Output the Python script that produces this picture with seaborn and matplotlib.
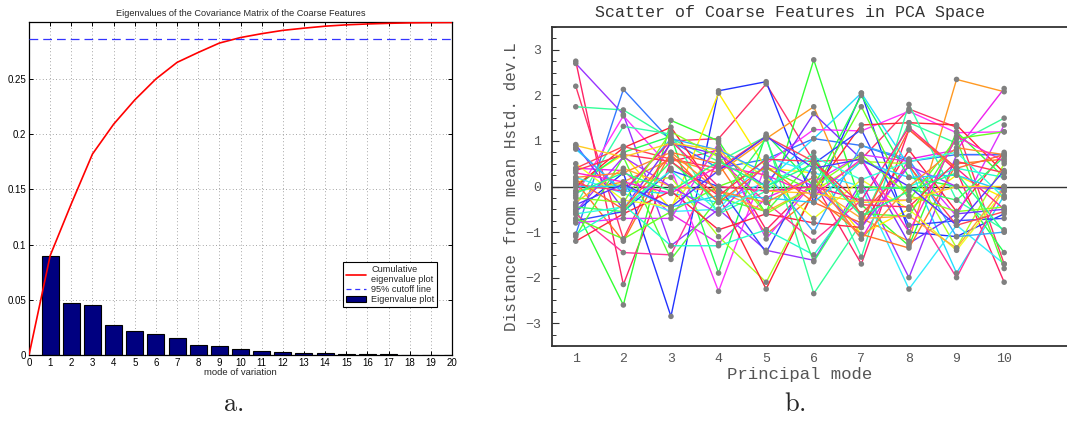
import numpy as np
import pandas as pd
import matplotlib
matplotlib.use("Agg")
import matplotlib.pyplot as plt
import seaborn as sns
from matplotlib.lines import Line2D
from matplotlib.patches import Patch
from matplotlib.ticker import MultipleLocator

# ---------------- data: panel a ----------------
modes = list(range(1, 21))
eigenvalues = [0.0900, 0.0470, 0.0450, 0.0270, 0.0220, 0.0190, 0.0150, 0.0090,
               0.0085, 0.0050, 0.0035, 0.0030, 0.0020, 0.0018, 0.0012, 0.0008,
               0.0006, 0.0004, 0.0002, 0.0001]
cutoff_fraction = 0.95
xticks_a = list(range(0, 21))
yticks_a = [0, 0.05, 0.1, 0.15, 0.2, 0.25]
yticklabels_a = ["0", "0.05", "0.1", "0.15", "0.2", "0.25"]

# ---------------- data: panel b ----------------
principal_modes = list(range(1, 11))
s01 = [2.70, 1.58, -1.30, -0.50, -1.40, -1.62, 0.10, -2.00, 0.70, 0.70]
s02 = [2.20, -1.15, 1.00, 1.05, 2.25, 0.55, 0.60, 1.70, 1.30, -1.70]
s03 = [2.75, -2.15, 0.55, 0.80, -0.95, 0.10, -1.70, 1.25, 0.35, -2.10]
s04 = [1.75, 1.68, 1.05, 0.55, 1.10, -2.35, -0.80, 1.40, 0.95, 1.50]
s05 = [-1.05, 2.13, 1.00, 0.40, 0.60, 1.05, 0.90, 0.55, 0.70, 0.70]
s06 = [-0.55, 0.30, -2.85, 2.10, 2.30, -0.35, 2.05, -1.00, -1.10, -0.60]
s07 = [-0.50, -2.60, 1.45, 1.00, -0.60, 2.78, -0.40, -1.30, 1.20, 0.20]
s08 = [0.05, 0.70, -0.50, 2.05, 0.40, 0.30, -1.05, -0.50, 0.25, -0.25]
s09 = [0.82, -0.10, -0.15, -0.35, 0.10, 1.05, 2.05, 0.45, -1.90, -0.20]
s10 = [-0.10, 0.10, 0.60, 0.30, 1.05, 1.75, -0.70, -1.20, 2.35, 2.08]
s11 = [-0.20, 1.55, 0.40, -2.30, 0.50, 1.25, 1.22, 1.65, 1.18, 1.20]
s12 = [0.40, 0.35, -0.60, -1.25, -0.25, 0.20, -1.15, 0.60, 0.80, 2.15]
s13 = [0.00, 0.75, 1.10, -1.90, 1.15, 0.00, 2.00, 0.20, 0.00, -1.45]
s14 = [-0.10, 0.05, 0.20, -1.10, -2.10, -0.10, 0.55, 0.50, -1.35, 0.50]
s15 = [0.00, 0.85, 1.30, -0.20, -2.25, -0.10, 1.35, 1.40, 1.35, 0.30]
s16 = [-0.40, 1.32, 1.15, -0.60, -0.10, 0.75, -1.55, 1.80, -0.30, -0.95]
s17 = [0.92, -0.50, 0.95, 0.70, 0.00, 1.60, 0.60, -1.25, -0.60, -0.50]
s18 = [0.20, -0.15, -0.55, -0.50, 0.65, 0.30, 0.00, -2.25, -0.85, -1.70]
s19 = [0.10, -1.20, 0.75, 0.50, -1.05, -0.20, -1.05, -1.35, 0.50, 0.60]
s20 = [-0.60, -1.45, -1.50, 0.60, -0.35, -1.20, -0.30, -0.30, -2.00, 0.00]
s21 = [-0.75, -0.55, 0.35, 0.00, -1.45, 0.50, 1.25, -0.85, -0.75, -0.70]
s22 = [-1.10, 0.65, -1.60, -0.25, -0.55, 0.60, -0.60, -0.65, 1.05, -1.80]
s23 = [-1.20, -0.60, -0.10, -0.95, -0.60, -0.80, -0.90, 0.80, -0.55, 0.75]
s24 = [0.50, -0.30, -0.45, 0.85, 0.20, -0.70, 0.15, -0.50, -1.40, -0.10]
s25 = [-0.80, -0.70, -0.70, 0.95, -1.15, 0.10, 0.70, 0.55, -0.65, 1.35]
s26 = [-1.05, -0.40, -1.30, -1.30, -0.95, -1.50, -0.10, 0.00, 0.40, 0.20]
s27 = [-0.35, 0.40, 0.00, -0.10, -0.55, 0.00, -0.70, -0.65, -1.35, 0.00]
s28 = [0.40, 0.88, 0.60, 0.40, 1.10, 0.55, -0.60, 0.45, -0.85, -0.55]
s29 = [0.85, -0.15, 1.05, 0.80, 0.30, -1.00, 0.90, 0.60, -1.10, -1.00]
s30 = [-0.70, -1.15, -0.55, 0.00, 0.40, -0.10, 1.75, -0.30, 1.05, 1.20]
s31 = [0.05, -0.10, 1.00, 0.00, -0.10, 0.00, -0.30, 1.30, 0.40, -0.50]
s32 = [-0.55, 0.65, 0.00, -0.60, 0.50, 0.00, -0.90, 0.45, 0.00, -0.05]
s33 = [-0.45, -0.55, 0.55, -0.35, 1.05, -1.65, 0.00, -0.05, -0.30, 0.65]
s34 = [0.00, 0.00, -0.45, -0.20, -0.25, -0.35, 0.55, 0.20, 0.25, -0.10]
s35 = [0.20, 0.30, 0.75, -0.10, -0.35, 0.20, -1.15, 0.00, 0.85, 0.70]
s36 = [0.35, 0.70, 0.55, -0.20, 0.60, 0.55, -0.40, -0.45, 0.55, 0.30]
s37 = [-0.25, -0.35, 1.20, 0.65, -0.60, 0.00, 0.70, -0.20, -0.55, -0.45]
s38 = [0.30, 0.10, -0.15, 0.45, 0.25, -0.20, 0.60, -1.00, 1.10, 0.55]
s39 = [-0.60, -0.45, 0.35, -0.55, 0.00, 0.65, 0.15, 0.55, 0.75, -0.25]
s40 = [0.90, 0.65, 0.95, 0.80, -0.10, -0.15, -0.35, -0.30, 0.00, 0.00]
s41 = [-0.40, 0.05, -0.45, 0.35, 1.10, 0.40, 0.60, 0.00, -0.85, 0.35]
s42 = [0.15, -0.50, 0.70, -0.35, 0.45, -0.35, -0.80, 1.25, 0.40, 0.70]
s43 = [-0.15, 0.30, -0.10, 0.55, 0.00, 0.50, -0.65, -0.10, 0.30, -1.00]
series_b = [s01, s02, s03, s04, s05, s06, s07, s08, s09, s10, s11, s12, s13, s14,
            s15, s16, s17, s18, s19, s20, s21, s22, s23, s24, s25, s26, s27, s28,
            s29, s30, s31, s32, s33, s34, s35, s36, s37, s38, s39, s40, s41, s42, s43]
line_colors = ["#9933ff", "#ff3366", "#ff2266", "#33ff99", "#3377ff", "#2233ff",
               "#33ff33", "#ffee00", "#22ddff", "#ff9922", "#ff33ff", "#ee22ee",
               "#22ff55", "#aaff22", "#ff2233", "#33ffaa", "#7733ff", "#33eeff",
               "#ff7722", "#ff3399", "#3344ff", "#55ff33", "#ff2244", "#eeff22",
               "#dd33ff", "#22ffcc", "#ffaa33", "#ff4455", "#33aaff", "#66ff22",
               "#ff2288", "#aa33ff", "#33ff66", "#22ccff", "#ff8833", "#ff3355",
               "#88ff22", "#ff22cc", "#33ffdd", "#ffcc22", "#5533ff", "#ff6633",
               "#22ff88"]

# ---------------- figure ----------------
sns.set_theme(style="white")
plt.rcParams["font.family"] = ["Liberation Sans", "DejaVu Sans"]
plt.rcParams["mathtext.fontset"] = "cm"

fig = plt.figure(figsize=(10.67, 4.26), dpi=100)

# ---- panel a ----
axa = fig.add_axes([0.0272, 0.1667, 0.3964, 0.7817])
total = float(np.sum(eigenvalues))
cumulative = [0.0] + list(np.cumsum(eigenvalues))
df_bar = pd.DataFrame({"mode": modes, "eig": eigenvalues})
sns.barplot(data=df_bar, x="mode", y="eig", native_scale=True, color="#000080",
            edgecolor="black", linewidth=0.8, width=0.8, saturation=1, ax=axa, zorder=2)
sns.lineplot(x=[0] + modes, y=cumulative, color="red", linewidth=1.2, ax=axa, zorder=3)
axa.axhline(cutoff_fraction * total, color="#3333ff", linestyle=(0, (7, 4)), linewidth=0.9, zorder=3)
axa.set_xlim(0, 20)
axa.set_ylim(0, total + 0.0005)
axa.set_xticks(xticks_a)
axa.set_yticks(yticks_a)
axa.set_yticklabels(yticklabels_a)
axa.grid(True, linestyle=(0, (1, 3)), color="#888888", linewidth=0.6, zorder=0)
axa.set_axisbelow(True)
axa.tick_params(direction="in", length=3, width=0.7, labelsize=7, pad=2,
                top=True, right=True, bottom=True, left=True, colors="black")
for sp in axa.spines.values():
    sp.set_visible(True)
    sp.set_color("black")
    sp.set_linewidth(0.9)
axa.set_xlabel("mode of variation", fontsize=6.8, labelpad=0)
axa.set_ylabel("")
axa.set_title("Eigenvalues of the Covariance Matrix of the Coarse Features", fontsize=6.6, pad=4)
handles = [Line2D([0], [0], color="red", lw=1.2),
           Line2D([0], [0], color="#3333ff", lw=0.9, linestyle=(0, (4, 3))),
           Patch(facecolor="#000080", edgecolor="black", linewidth=0.8)]
leg = axa.legend(handles, ["Cumulative\neigenvalue plot", "95% cutoff line", "Eigenvalue plot"],
                 loc="lower right", bbox_to_anchor=(0.965, 0.145), fontsize=6.6,
                 frameon=True, fancybox=False, framealpha=1, edgecolor="black",
                 borderpad=0.3, labelspacing=0.1, handlelength=2.2, handletextpad=0.6,
                 borderaxespad=0, alignment="left")
for t in leg.get_texts():
    t.set_multialignment("left")
leg.get_frame().set_linewidth(0.8)

# ---- panel b ----
axb = fig.add_axes([0.5173, 0.1878, 0.4827, 0.7488])
rows = []
for i, vals in enumerate(series_b):
    for m, v in zip(principal_modes, vals):
        rows.append({"sample": i, "mode": m, "value": v})
df_b = pd.DataFrame(rows)
sns.lineplot(data=df_b, x="mode", y="value", hue="sample", palette=line_colors,
             estimator=None, sort=False, legend=False, linewidth=1.0, ax=axb, zorder=2)
sns.scatterplot(data=df_b, x="mode", y="value", color="#808080", s=16,
                edgecolor="none", linewidth=0, ax=axb, zorder=4)
axb.axhline(0, color="#333333", linewidth=1.0, zorder=1)
axb.set_xlim(0.5, 11.32)
axb.set_ylim(-3.5, 3.5)
axb.set_xticks(principal_modes)
axb.set_yticks([-3, -2, -1, 0, 1, 2, 3])
axb.yaxis.set_minor_locator(MultipleLocator(0.25))
mono = ["Liberation Mono", "DejaVu Sans Mono"]
axb.tick_params(axis="y", which="major", direction="in", length=5, width=0.8,
                colors="#333333", labelcolor="#555555", labelsize=9.5, pad=8, left=True)
axb.tick_params(axis="y", which="minor", direction="in", length=3, width=0.7,
                colors="#333333", left=True)
axb.tick_params(axis="x", which="major", direction="in", length=0, colors="#333333",
                labelcolor="#555555", labelsize=9.5, pad=5, bottom=True)
for lab in axb.get_xticklabels() + axb.get_yticklabels():
    lab.set_family(mono)
for name, sp in axb.spines.items():
    sp.set_color("#333333")
    sp.set_linewidth(1.3)
axb.spines["right"].set_visible(False)
axb.set_xlabel("Principal mode", family=mono, fontsize=12.5, color="#555555", labelpad=-1)
axb.xaxis.set_label_coords(0.48, -0.065)
axb.set_ylabel("Distance from mean Hstd. dev.L", family=mono, fontsize=11.5,
               color="#555555", labelpad=4)
axb.set_title("Scatter of Coarse Features in PCA Space", family=mono, fontsize=12,
              color="#333333", pad=7, x=0.462)

# ---- captions ----
fig.text(233 / 1067, 1 - 404 / 426, r"$\mathrm{a.}$", fontsize=19, ha="center", va="center")
fig.text(795 / 1067, 1 - 404 / 426, r"$\mathrm{b.}$", fontsize=19, ha="center", va="center")

fig.savefig("out.png", dpi=100)
